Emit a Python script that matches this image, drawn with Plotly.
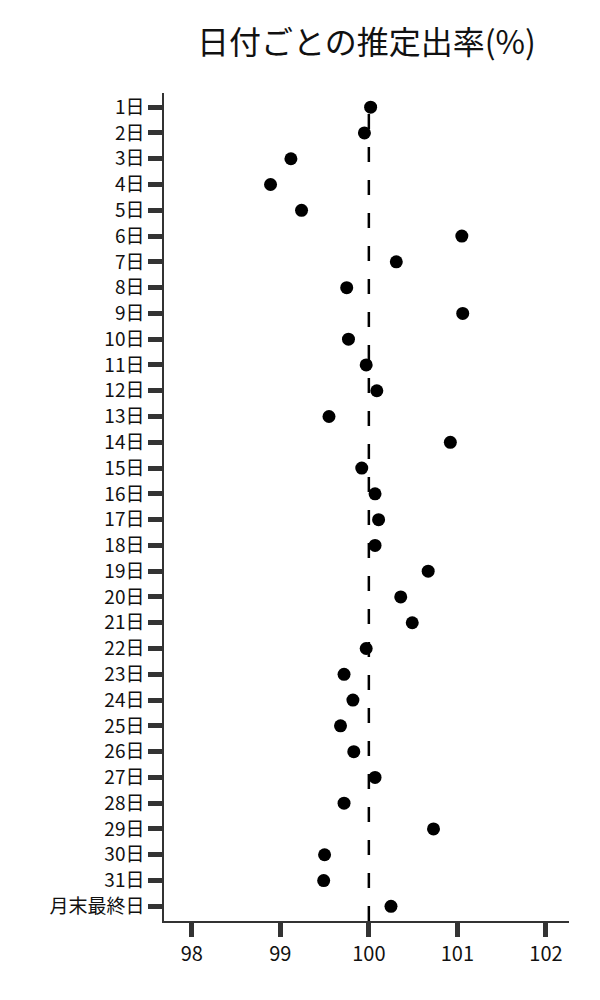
import plotly.graph_objects as go

days = [f"{i}日" for i in range(1, 32)] + ["月末最終日"]
rates = [100.02, 99.95, 99.12, 98.89, 99.24, 101.05, 100.31, 99.75, 101.06, 99.77,
         99.97, 100.09, 99.55, 100.92, 99.92, 100.07, 100.11, 100.07, 100.67, 100.36,
         100.49, 99.97, 99.72, 99.82, 99.68, 99.83, 100.07, 99.72, 100.73, 99.50,
         99.49, 100.25]
x_ticks = [98, 99, 100, 101, 102]
ref_value = 100

FONT = "Noto Sans CJK JP"

fig = go.Figure()
fig.add_trace(go.Scatter(
    x=rates, y=days, mode="markers",
    marker=dict(color="black", size=13, line=dict(width=0)),
    showlegend=False, hoverinfo="x+y",
))

fig.add_shape(type="line", xref="x", yref="paper",
              x0=ref_value, x1=ref_value, y0=0, y1=0.983,
              line=dict(color="black", width=2.5, dash="15px,18px"),
              layer="below")

fig.update_layout(
    width=600, height=1000,
    margin=dict(l=156, r=39, t=85, b=87),
    paper_bgcolor="white", plot_bgcolor="white",
    font=dict(family=FONT, size=19, color="#111"),
    title=dict(text="日付ごとの推定出率(%)", x=0.5, xref="paper",
               y=0.965, yanchor="middle", xanchor="center",
               font=dict(family=FONT, size=32, color="#111")),
)
fig.update_xaxes(
    range=[97.687, 102.26], tickmode="array", tickvals=x_ticks,
    ticktext=[str(v) for v in x_ticks],
    showgrid=False, zeroline=False, showline=True, linecolor="#333", linewidth=1.5,
    ticks="outside", ticklen=14, tickwidth=5, tickcolor="#333",
    tickfont=dict(size=20),
)
fig.update_yaxes(
    type="category", categoryorder="array", categoryarray=days,
    tickmode="array", tickvals=days, ticktext=days,
    range=[len(days) - 1 + 0.57, -0.55],
    showgrid=False, zeroline=False, showline=True, linecolor="#333", linewidth=1.5,
    ticks="outside", ticklen=14, tickwidth=5, tickcolor="#333",
    tickfont=dict(size=19),
)

fig.write_html("out.html")
